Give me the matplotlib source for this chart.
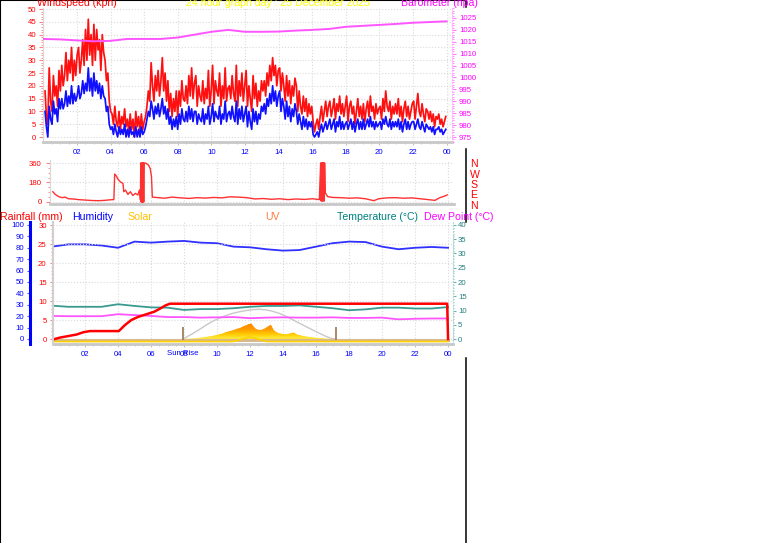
import numpy as np
import matplotlib
matplotlib.use('Agg')
import matplotlib.pyplot as plt
from matplotlib.colors import LinearSegmentedColormap
from matplotlib.lines import Line2D

plt.rcParams['font.family'] = ['Liberation Sans', 'DejaVu Sans']

W, H = 761, 543

# ---- wind speed (kph), 5 minute samples, one row per hour ----
wind_t = np.linspace(0.1, 23.95, 288)
gust = [18, 8, 5, 27, 14, 10, 24, 16, 20, 12, 26, 18,
        28, 20, 24, 33, 22, 30, 25, 35, 22, 30, 24, 32,
        35, 25, 30, 38, 28, 42, 30, 46, 32, 40, 28, 44,
        30, 42, 34, 38, 26, 40, 33, 30, 22, 25, 14, 10,
        9, 5, 12, 6, 4, 10, 3, 8, 5, 11, 4, 7,
        2, 9, 3, 7, 0, 10, 4, 8, 2, 9, 3, 6,
        8, 12, 18, 14, 29, 20, 14, 24, 18, 26, 16, 22,
        31, 18, 25, 14, 22, 10, 17, 8, 15, 10, 18, 8,
        18, 12, 22, 15, 14, 20, 13, 24, 16, 27, 15, 21,
        24, 12, 20, 16, 14, 22, 13, 19, 15, 26, 12, 18,
        28, 13, 22, 18, 16, 25, 12, 20, 15, 27, 14, 19,
        20, 15, 24, 17, 14, 28, 12, 22, 16, 25, 14, 20,
        26, 12, 20, 15, 10, 24, 15, 21, 12, 18, 14, 22,
        18, 22, 16, 25, 20, 28, 22, 31, 24, 28, 20, 26,
        27, 18, 25, 20, 14, 24, 16, 22, 13, 20, 16, 23,
        20, 10, 18, 12, 9, 16, 10, 15, 8, 13, 9, 12,
        6, 2, 5, 7, 3, 8, 12, 6, 10, 14, 8, 12,
        14, 8, 11, 15, 7, 13, 10, 16, 9, 13, 8, 12,
        16, 6, 12, 14, 9, 12, 5, 10, 15, 8, 12, 7,
        13, 6, 11, 14, 8, 16, 10, 12, 7, 13, 9, 11,
        12, 7, 15, 10, 18, 12, 10, 14, 7, 12, 9, 13,
        9, 15, 8, 12, 6, 11, 14, 8, 12, 7, 10, 13,
        14, 7, 12, 17, 10, 8, 13, 9, 6, 11, 10, 7,
        10, 6, 9, 4, 8, 7, 9, 5, 7, 4, 6, 8]
avg = [10, 4, 0, 12, 7, 5, 14, 9, 11, 6, 15, 11,
       15, 11, 13, 18, 12, 16, 13, 20, 13, 17, 14, 16,
       20, 15, 17, 22, 17, 21, 18, 27, 18, 23, 16, 25,
       18, 22, 17, 21, 15, 20, 16, 15, 10, 12, 5, 3,
       4, 1, 5, 2, 0, 4, 1, 3, 1, 5, 0, 3,
       0, 4, 1, 2, 0, 4, 0, 3, 0, 4, 1, 2,
       4, 7, 10, 8, 14, 11, 7, 12, 9, 13, 8, 11,
       15, 9, 12, 7, 11, 5, 8, 3, 7, 4, 8, 3,
       9, 5, 11, 7, 6, 10, 6, 12, 7, 11, 6, 10,
       10, 5, 9, 7, 6, 11, 5, 9, 7, 12, 5, 8,
       13, 6, 10, 8, 7, 12, 5, 9, 7, 14, 6, 9,
       10, 7, 12, 8, 6, 14, 5, 11, 7, 12, 6, 9,
       12, 4, 10, 6, 3, 11, 6, 10, 5, 9, 7, 12,
       10, 13, 9, 15, 12, 17, 13, 20, 14, 18, 12, 16,
       18, 10, 15, 12, 7, 14, 8, 12, 6, 11, 8, 13,
       10, 5, 9, 6, 3, 8, 4, 7, 3, 6, 4, 6,
       1, 0, 1, 2, 0, 3, 5, 2, 4, 6, 3, 5,
       7, 3, 5, 7, 2, 6, 4, 8, 3, 6, 3, 5,
       6, 3, 5, 7, 3, 6, 2, 5, 7, 3, 6, 3,
       7, 3, 5, 7, 4, 8, 4, 6, 3, 6, 4, 5,
       6, 3, 7, 5, 8, 5, 4, 7, 3, 6, 4, 6,
       4, 7, 3, 6, 2, 5, 7, 3, 6, 3, 5, 6,
       6, 3, 5, 7, 4, 3, 6, 4, 2, 5, 4, 3,
       4, 2, 4, 1, 3, 3, 4, 2, 3, 1, 2, 3]

# ---- barometer (hpa), hourly ----
hours = np.arange(25)
baro = [1016.2, 1016.0, 1015.6, 1015.2, 1015.4, 1016.2, 1016.2, 1016.2, 1016.8,
        1018.0, 1019.2, 1020.0, 1019.2, 1019.2, 1019.3, 1019.7, 1020.0, 1020.4,
        1021.3, 1021.7, 1022.1, 1022.5, 1023.0, 1023.3, 1023.6]

# ---- wind direction (deg) ----
wdir_t = [0.05, 0.2, 0.4, 0.6, 0.8, 1.0, 1.3, 1.6, 2.0, 2.4, 2.8, 3.2, 3.5, 3.75,
          3.8, 3.9, 4.0, 4.15, 4.3, 4.35, 4.45, 4.6, 4.75, 4.9, 5.05, 5.2, 5.3, 5.36,
          5.38, 5.40, 5.42, 5.44, 5.46, 5.48, 5.50, 5.52, 5.54, 5.56, 5.58,
          5.62, 5.7, 5.85, 5.95, 6.03, 6.08, 6.3, 6.8, 7.3, 7.8, 8.3, 8.8, 9.3,
          9.8, 10.3, 10.8, 11.3, 11.8, 12.3, 12.8, 13.3, 13.8, 14.3, 14.8, 15.3,
          15.8, 16.2, 16.28, 16.30, 16.32, 16.34, 16.36, 16.38, 16.40, 16.42,
          16.44, 16.46, 16.48, 16.50, 16.52, 16.56, 16.7, 17.0, 17.5, 18.0,
          18.5, 19.0, 19.5, 19.8, 20.3, 20.8, 21.3, 21.8, 22.3, 22.8, 23.2,
          23.5, 23.8, 23.95]
wdir = [95, 70, 50, 40, 45, 30, 28, 22, 18, 14, 12, 15, 20, 22,
        258, 240, 210, 185, 172, 95, 110, 70, 95, 60, 80, 65, 110, 20,
        360, 0, 360, 0, 360, 0, 360, 0, 360, 0, 360,
        360, 358, 340, 310, 235, 45, 42, 35, 45, 38, 33, 40, 36,
        42, 38, 48, 45, 40, 28, 32, 25, 30, 22, 28, 24,
        30, 22, 360, 10, 360, 10, 360, 10, 360, 10,
        360, 10, 360, 10, 360, 85, 50, 42, 40, 35,
        38, 30, 12, 30, 38, 40, 35, 38, 30, 22, 15,
        40, 55, 65]

# ---- bottom panel ----
humidity = [81, 83, 83, 82, 80, 85.4, 84.5, 85.4, 86, 84.5, 84, 81, 80.4,
            78.7, 77.5, 78, 81, 84, 85.4, 85, 81, 78.7, 80, 80.7, 80]
temperature = [11.7, 11.3, 11.3, 11.3, 12.2, 11.6, 11.1, 11.0, 10.2, 10.5,
               10.5, 10.8, 11.3, 11.6, 11.6, 11.8, 11.3, 10.8, 10.1, 10.4,
               11.0, 11.0, 10.7, 10.7, 11.2]
dewpoint = [8.1, 8.0, 8.0, 8.0, 8.7, 8.4, 8.1, 7.7, 7.7, 7.5, 7.6, 7.7, 7.3,
            7.5, 7.6, 7.5, 7.5, 7.6, 7.4, 7.4, 7.5, 6.9, 7.1, 7.2, 7.2]
rain_t = [0.15, 0.5, 1.0, 1.5, 1.9, 2.3, 4.05, 4.4, 4.8, 5.2, 5.7, 6.2, 6.5,
          6.9, 7.15, 23.95, 24.0]
rain = [0.0, 0.4, 0.8, 1.2, 1.8, 2.1, 2.1, 3.6, 5.0, 5.8, 6.5, 7.2, 7.9,
        8.9, 9.3, 9.3, 0.0]
solar_t = [7.9, 8.2, 8.5, 8.8, 9.1, 9.4, 9.7, 10.0, 10.3, 10.5, 10.8, 11.0,
           11.2, 11.4, 11.6, 11.8, 11.95, 12.05, 12.15, 12.3, 12.45, 12.6,
           12.75, 12.9, 13.1, 13.25, 13.4, 13.55, 13.7, 13.9, 14.1, 14.3,
           14.5, 14.65, 14.8, 15.0, 15.2, 15.4, 15.7, 16.0, 16.3, 16.6, 17.0, 17.2]
solar = [0, 3, 6, 10, 18, 25, 35, 47, 62, 78, 95, 105, 120, 130, 150, 165,
         180, 190, 160, 125, 110, 105, 112, 125, 150, 168, 110, 85, 70, 62,
         55, 58, 70, 75, 55, 45, 35, 28, 20, 14, 10, 5, 1, 0]
solar_max_t = [7.95, 8.5, 9.0, 9.4, 9.8, 10.2, 10.6, 11.0, 11.4, 11.8, 12.2,
               12.55, 12.9, 13.3, 13.8, 14.2, 14.6, 15.0, 15.4, 15.8, 16.2,
               16.6, 16.9, 17.15]
solar_max = [0, 60, 120, 170, 215, 250, 280, 305, 322, 336, 346, 350, 344,
             330, 300, 265, 225, 185, 145, 105, 67, 30, 8, 0]
uv = [0] * 12 + [0.4] + [0] * 12
sun_events = [7.95, 17.2]

tick_hours = list(range(2, 25, 2))
tick_labels = ['%02d' % (h % 24) for h in tick_hours]


def box(l, t, r, b):
    return [l / W, 1 - b / H, (r - l) / W, (b - t) / H]


def ftext(x, y, s, color, size=7.6, **kw):
    fig.text(x / W, 1 - y / H, s, color=color, fontsize=size,
             va='baseline', **kw)


fig = plt.figure(figsize=(W / 100, H / 100), dpi=100)
grid_kw = dict(color='#DADADA', ls=':', lw=0.8)
TS = 5.6

# ================= top panel: wind + barometer =================
ax_w = fig.add_axes(box(43, 8, 452, 142))
ax_w.plot(wind_t, gust, color='#FF1010', lw=1.25)
ax_w.plot(wind_t, avg, color='#1010FF', lw=1.25)
ax_w.set_xlim(-0.02, 24.32)
ax_w.set_ylim(-1.95, 50.4)
ax_w.set_yticks(range(0, 51, 5))
ax_w.set_yticks(range(0, 51), minor=True)
ax_w.set_xticks(tick_hours)
ax_w.set_xticklabels(tick_labels)
ax_w.set_xticks(np.arange(0.5, 24.3, 0.5), minor=True)
ax_w.tick_params(axis='y', which='both', colors='#FF8080', labelcolor='#FF0000',
                 labelsize=TS, length=3, pad=2)
ax_w.tick_params(axis='y', which='minor', length=1.5)
ax_w.tick_params(axis='x', which='both', colors='#C0C0C0', labelcolor='#0000FF',
                 labelsize=TS, length=2.5, pad=2.5)
ax_w.tick_params(axis='x', which='minor', length=1.5)
ax_w.grid(True, **grid_kw)
for s in ['top', 'right']:
    ax_w.spines[s].set_visible(False)
ax_w.spines['left'].set_color('#D8D8D8')
ax_w.spines['bottom'].set_color('#C8C8C8')
ax_w.spines['bottom'].set_linewidth(2)

ax_p = ax_w.twinx()
ax_p.plot(hours, baro, color='#FF55FF', lw=1.4)
ax_p.set_ylim(972.9, 1029.2)
ax_p.set_yticks(range(975, 1030, 5))
ax_p.set_yticks(range(973, 1030), minor=True)
ax_p.tick_params(axis='y', which='both', colors='#FF80FF', labelcolor='#FF00FF',
                 labelsize=TS, length=3, pad=2)
ax_p.tick_params(axis='y', which='minor', length=1.5)
for s in ['top', 'left', 'bottom']:
    ax_p.spines[s].set_visible(False)
ax_p.spines['right'].set_color('#FFB0FF')
ax_p.spines['right'].set_linestyle(':')

# ================= middle panel: wind direction =================
ax_d = fig.add_axes(box(50, 160, 454, 204))
ax_d.plot(wdir_t, wdir, color='#FF3030', lw=1.0)
ax_d.set_xlim(-0.12, 24.36)
ax_d.set_ylim(-18.5, 387.7)
ax_d.set_yticks([0, 180, 360])
ax_d.set_yticks(range(0, 361, 45), minor=True)
ax_d.set_xticks(tick_hours)
ax_d.set_xticklabels([])
ax_d.tick_params(axis='x', length=0)
ax_d.tick_params(axis='y', which='both', colors='#FF8080', labelcolor='#FF0000',
                 labelsize=TS, length=3, pad=3)
ax_d.tick_params(axis='y', which='minor', length=1.5)
ax_d.grid(True, **grid_kw)
for s in ['top', 'right']:
    ax_d.spines[s].set_visible(False)
ax_d.spines['left'].set_color('#D8D8D8')
ax_d.spines['bottom'].set_color('#C8C8C8')
ax_d.spines['bottom'].set_linewidth(2)

# ================= bottom panel =================
ax_h = fig.add_axes(box(53, 222, 453, 344))
ax_h.plot(hours, humidity, color='#3030FF', lw=1.3)
ax_h.set_xlim(0.06, 24.3)
ax_h.set_ylim(-4.4, 102.6)
ax_h.set_yticks(range(0, 101, 10))
ax_h.set_yticks(range(0, 101, 2), minor=True)
ax_h.set_xticks(tick_hours)
ax_h.set_xticklabels(tick_labels)
ax_h.set_xticks(np.arange(0.5, 24.3, 0.5), minor=True)
ax_h.tick_params(axis='x', which='both', colors='#C0C0C0', labelcolor='#0000FF',
                 labelsize=TS, length=2.5, pad=2.5)
ax_h.tick_params(axis='x', which='minor', length=1.5)
ax_h.tick_params(axis='y', which='both', colors='#5050FF', labelcolor='#0000FF',
                 labelsize=TS, length=2, pad=2)
ax_h.tick_params(axis='y', which='minor', length=1)
ax_h.spines['left'].set_position(('outward', 16.6))
ax_h.spines['left'].set_color('#0000FF')
ax_h.spines['left'].set_linewidth(2.2)
ax_h.spines['bottom'].set_color('#C8C8C8')
ax_h.spines['bottom'].set_linewidth(2)
for s in ['top', 'right']:
    ax_h.spines[s].set_visible(False)
ax_h.grid(True, axis='x', **grid_kw)

# solar (hidden scale)
ax_s = ax_h.twinx()
ax_s.set_axis_off()
ax_s.plot(solar_max_t, solar_max, color='#C8C8C8', lw=1.0)
poly = ax_s.fill_between(solar_t, solar, color='#FF9900', lw=0)
grad = np.linspace(0, 1, 256).reshape(-1, 1)
cmap = LinearSegmentedColormap.from_list('sun', ['#FFF040', '#FFC800', '#FF9A00', '#FF8C00'])
im = ax_s.imshow(grad, extent=[7.9, 17.2, 0, 170], origin='lower',
                 aspect='auto', cmap=cmap, zorder=3)
im.set_clip_path(poly.get_paths()[0], transform=ax_s.transData)
ax_s.set_xlim(0.06, 24.3)
ax_s.set_ylim(-60, 1380)

# temperature / dew point
ax_t = ax_h.twinx()
ax_t.plot(hours, temperature, color='#3A9A90', lw=1.3)
ax_t.plot(hours, dewpoint, color='#FF55FF', lw=1.3)
ax_t.set_ylim(-1.75, 41.05)
ax_t.set_yticks(range(0, 41, 5))
ax_t.set_yticks(range(0, 41, 1), minor=True)
ax_t.tick_params(axis='y', which='both', colors='#70B0B0', labelcolor='#208080',
                 labelsize=TS, length=2, pad=1.5)
ax_t.tick_params(axis='y', which='minor', length=1)
for s in ['top', 'left', 'bottom']:
    ax_t.spines[s].set_visible(False)
ax_t.spines['right'].set_color('#B0D8D8')
ax_t.spines['right'].set_linestyle(':')

# rain + UV + markers (on top)
ax_r = ax_h.twinx()
ax_r.yaxis.tick_left()
ax_r.set_ylim(-1.3, 30.8)
ax_r.set_xlim(0.06, 24.3)
ax_r.set_yticks(range(0, 31, 5))
ax_r.set_yticks(range(0, 31, 1), minor=True)
ax_r.grid(True, axis='y', **grid_kw)
ax_r.tick_params(axis='y', which='both', colors='#FF8080', labelcolor='#FF0000',
                 labelsize=TS, length=2.5, pad=2)
ax_r.tick_params(axis='y', which='minor', length=1.2)
for s in ['top', 'right', 'bottom']:
    ax_r.spines[s].set_visible(False)
ax_r.spines['left'].set_color('#D0D0D0')
ax_r.spines['left'].set_linewidth(1.5)
ax_r.axhline(-0.25, xmin=0.0, xmax=(24 - 0.06) / 24.24, color='#D8B890', lw=2.2)
ax_r.plot(hours, [u * 3 - 0.65 for u in uv], color='#FFD000', lw=1.2)
ax_r.vlines(sun_events, -0.3, 3.1, color='#A08060', lw=1.3)
ax_r.plot(rain_t, rain, color='#FF0000', lw=1.8)
ax_r.text(sun_events[0], -0.074, 'Sun Rise', transform=ax_r.get_xaxis_transform(),
          color='#0000FF', fontsize=TS, ha='center', va='center')

# ================= header texts =================
ftext(37, 6, 'Windspeed (kph)', '#FF0000')
ftext(186, 6, '24 hour graph day : 25 December 2025', '#FFFF00')
ftext(401, 6, 'Barometer (hpa)', '#FF00FF')
ftext(0, 219.5, 'Rainfall (mm)', '#FF0000')
ftext(72, 219.5, 'Humidity', '#0000FF')
ftext(127, 219.5, 'Solar', '#FFC000')
ftext(265, 219.5, 'UV', '#FF8040')
ftext(337, 219.5, 'Temperature (°C)', '#007F7F')
ftext(424, 219.5, 'Dew Point (°C)', '#FF00FF')
for i, ch in enumerate('NWSEN'):
    ftext(470, 167 + i * 10.5, ch, '#FF0000', size=7.6)

# ================= frame =================
fig.add_artist(Line2D([0, 0], [0, 1], transform=fig.transFigure, color='black', lw=1.5))
fig.add_artist(Line2D([0, 466 / W], [1, 1], transform=fig.transFigure, color='black', lw=1.5))
for y0, y1 in [(0, 7), (149, 222), (358, 543)]:
    fig.add_artist(Line2D([465.5 / W] * 2, [1 - y0 / H, 1 - y1 / H],
                          transform=fig.transFigure, color='black', lw=1.1))

fig.savefig('out.png', dpi=100)
